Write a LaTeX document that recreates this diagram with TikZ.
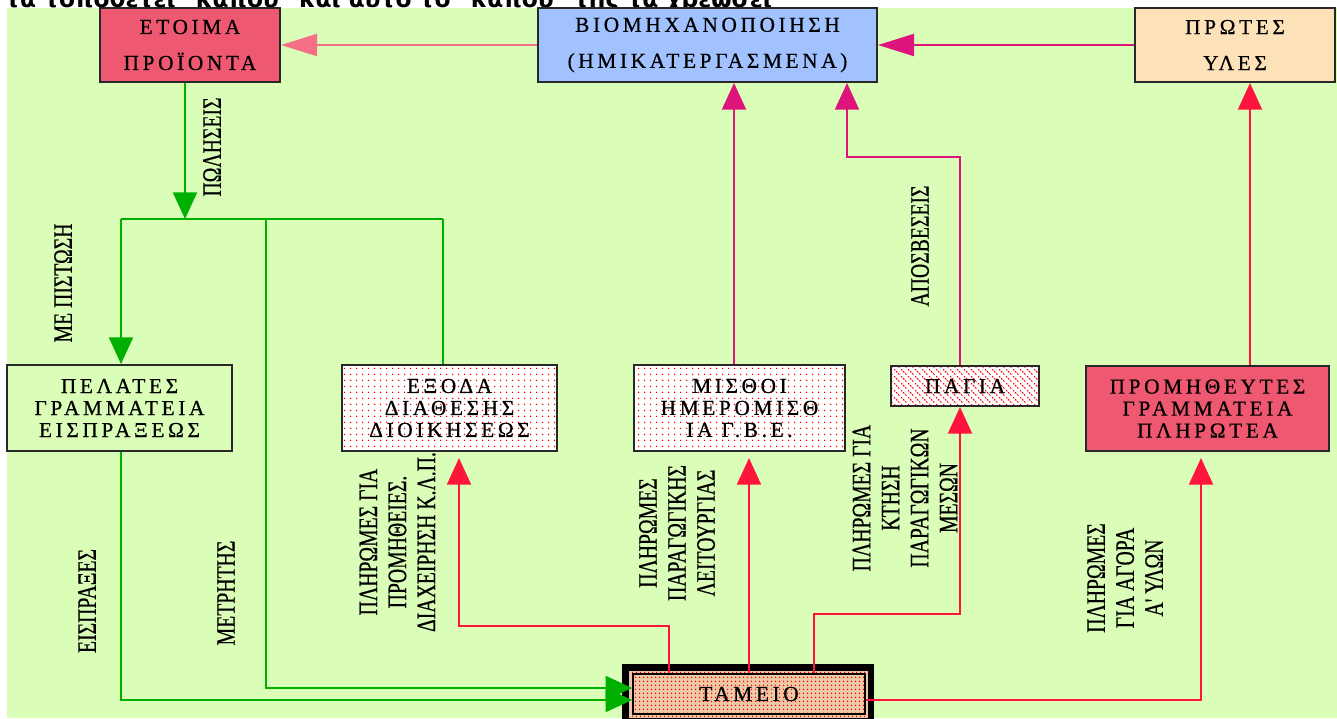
\documentclass[tikz,border=0pt]{standalone}
\usepackage{fontspec}
\setmainfont{Liberation Serif}
\newfontfamily\boxfont[LetterSpace=17,FakeBold=0.6]{Liberation Serif}
\newfontfamily\lblfont[FakeStretch=0.74,FakeBold=0.5]{Liberation Serif}
\newfontfamily\topfont{DejaVu Sans}
\usetikzlibrary{arrows.meta,patterns.meta}

\definecolor{bggreen}{RGB}{218,253,184}
\definecolor{lgreen}{RGB}{0,176,0}
\definecolor{pinkar}{RGB}{245,112,135}
\definecolor{magar}{RGB}{222,20,125}
\definecolor{redar}{RGB}{255,20,60}
\definecolor{redbox}{RGB}{238,88,112}
\definecolor{bluebox}{RGB}{162,194,255}
\definecolor{peach}{RGB}{252,225,185}
\definecolor{tanbox}{RGB}{238,200,165}
\definecolor{edge}{RGB}{40,40,40}

\tikzdeclarepattern{
  name=reddots,
  type=colored,
  bottom left={(0pt,0pt)},
  top right={(4.5pt,4.5pt)},
  tile size={(4.5pt,4.5pt)},
  code={\fill[red] (2.25pt,2.25pt) circle [radius=0.7pt];}
}
\tikzdeclarepattern{
  name=densedots,
  type=colored,
  bottom left={(0pt,0pt)},
  top right={(2.6pt,2.6pt)},
  tile size={(2.6pt,2.6pt)},
  code={\fill[red] (1.3pt,1.3pt) circle [radius=0.65pt];}
}
\tikzdeclarepattern{
  name=redhatch,
  type=colored,
  bottom left={(0pt,0pt)},
  top right={(5.5pt,5.5pt)},
  tile size={(5.5pt,5.5pt)},
  code={\draw[red, line width=0.8pt, dash pattern=on 1.4pt off 1pt] (0pt,5.5pt) -- (5.5pt,0pt);}
}

\tikzset{
  box/.style={draw=edge, line width=1.5pt, inner sep=0pt, align=center,
    font=\boxfont\fontsize{16pt}{16.5pt}\selectfont},
  topbox/.style={box, minimum height=55.5pt,
    font=\boxfont\fontsize{16pt}{27pt}\selectfont},
  lbl/.style={rotate=90, align=center, inner sep=0pt,
    font=\lblfont\fontsize{20pt}{21.75pt}\selectfont},
  vhead/.style={-{Triangle[length=20pt,width=18pt]}},
  hhead/.style={-{Triangle[length=27pt,width=16.5pt]}},
  gline/.style={draw=lgreen, line width=1.5pt},
  rline/.style={draw=redar, line width=1.5pt},
  mline/.style={draw=magar, line width=1.5pt},
  pline/.style={draw=pinkar, line width=1.5pt}
}

\begin{document}
\begin{tikzpicture}[x=0.75pt,y=-0.75pt]
\useasboundingbox (0,0) rectangle (1337,718);
\clip (0,0) rectangle (1337,718);
\fill[white] (0,0) rectangle (1337,718);
\node[anchor=base west, inner sep=0pt,
  font=\topfont\bfseries\fontsize{17.5pt}{19pt}\selectfont] (toptext) at (5,7)
  {τα τοποθετεί "κάπου" και αυτό το "κάπου" της τα χρεώσει};
\fill[bggreen] (7,8) rectangle (1337,718);

% top row
\node[topbox, fill=redbox, minimum width=135pt] (etoima) at (190,45) {ΕΤΟΙΜΑ\\ΠΡΟΪΟΝΤΑ};
\node[topbox, fill=bluebox, minimum width=254.25pt] (biom) at (707.5,45) {ΒΙΟΜΗΧΑΝΟΠΟΙΗΣΗ\\(ΗΜΙΚΑΤΕΡΓΑΣΜΕΝΑ)};
\node[topbox, fill=peach, minimum width=150pt] (protes) at (1235,45) {ΠΡΩΤΕΣ\\ΥΛΕΣ};

% middle row
\node[box, minimum width=168.75pt, minimum height=64.5pt] (pelates) at (119.5,408) {ΠΕΛΑΤΕΣ\\ΓΡΑΜΜΑΤΕΙΑ\\ΕΙΣΠΡΑΞΕΩΣ};
\node[box, preaction={fill=white}, pattern=reddots, minimum width=161.25pt, minimum height=64.5pt] (exoda) at (449.5,408) {ΕΞΟΔΑ\\ΔΙΑΘΕΣΗΣ\\ΔΙΟΙΚΗΣΕΩΣ};
\node[box, preaction={fill=white}, pattern=reddots, minimum width=158.25pt, minimum height=64.5pt] (misthoi) at (739.5,408) {ΜΙΣΘΟΙ\\ΗΜΕΡΟΜΙΣΘ\\ΙΑ Γ.Β.Ε.};
\node[box, preaction={fill=white}, pattern=redhatch, minimum width=111pt, minimum height=30pt] (pagia) at (965,386) {ΠΑΓΙΑ};
\node[box, fill=redbox, minimum width=182.25pt, minimum height=63.75pt] (promith) at (1207.5,408.5) {ΠΡΟΜΗΘΕΥΤΕΣ\\ΓΡΑΜΜΑΤΕΙΑ\\ΠΛΗΡΩΤΕΑ};

% cash box
\fill[black] (622,664) rectangle (874,730);
\path[preaction={fill=tanbox}, pattern=densedots] (629,671) rectangle (868,718);
\node[box, line width=1.2pt, draw=black, preaction={fill=tanbox}, pattern=densedots,
  minimum width=174pt, minimum height=30pt] (tameio) at (749,694) {ΤΑΜΕΙΟ};

% top arrows
\draw[pline, hhead] (biom.west) -- (etoima.east);
\draw[mline, hhead] (protes.west) -- (biom.east);

% green flows
\coordinate (j) at (185,219);
\coordinate (jl) at (121,219);
\coordinate (jm) at (266,219);
\coordinate (jr) at (443,219);
\draw[gline] (jl) -- (jr);
\draw[gline, vhead] (etoima.south -| j) -- (j);
\draw[gline, vhead] (jl) -- (jl |- pelates.north);
\draw[gline] (jr) -- (jr |- exoda.north);
\draw[gline, vhead] (jm) |- ([yshift=4.5pt]tameio.west);
\draw[gline, vhead] (pelates.south -| jl) |- ([yshift=-4.5pt]tameio.west);

% red flows from cash
\coordinate (ra) at (669,626);
\coordinate (rb) at (459,626);
\draw[rline, vhead, shorten >=4.5pt] (tameio.north -| ra) -- (ra) -- (rb) -- (rb |- exoda.south);
\draw[rline, vhead, shorten >=4.5pt] (tameio.north) -- (misthoi.south -| tameio.north);
\coordinate (rc) at (814,614);
\coordinate (rd) at (960,614);
\draw[rline, vhead] (tameio.north -| rc) -- (rc) -- (rd) -- (rd |- pagia.south);
\coordinate (re) at (1201,700);
\draw[rline, vhead, shorten >=4.5pt] ([yshift=-4.5pt]tameio.east) -- (re) -- (re |- promith.south);
\coordinate (rf) at (1250,300);
\draw[rline, vhead] (promith.north -| rf) -- (protes.south -| rf);

% magenta flows into production
\coordinate (mx) at (734,300);
\draw[mline, vhead] (misthoi.north -| mx) -- (biom.south -| mx);
\coordinate (pa) at (960,157);
\coordinate (pb) at (847,157);
\draw[mline, vhead] (pagia.north -| pa) -- (pa) -- (pb) -- (pb |- biom.south);

% labels
\node[lbl] (lpol) at (212,147) {ΠΩΛΗΣΕΙΣ};
\node[lbl] (lpist) at (63,283) {ΜΕ ΠΙΣΤΩΣΗ};
\node[lbl] (leisp) at (87,601) {ΕΙΣΠΡΑΞΕΣ};
\node[lbl] (lmetr) at (226,593) {ΜΕΤΡΗΤΗΣ};
\node[lbl] (lprom) at (397.5,542) {ΠΛΗΡΩΜΕΣ ΓΙΑ\\ΠΡΟΜΗΘΕΙΕΣ.\\ΔΙΑΧΕΙΡΗΣΗ Κ.Λ.Π.};
\node[lbl] (lpar) at (677,533) {ΠΛΗΡΩΜΕΣ\\ΠΑΡΑΓΩΓΙΚΗΣ\\ΛΕΙΤΟΥΡΓΙΑΣ};
\node[lbl] (lkt) at (905,498) {ΠΛΗΡΩΜΕΣ ΓΙΑ\\ΚΤΗΣΗ\\ΠΑΡΑΓΩΓΙΚΩΝ\\ΜΕΣΩΝ};
\node[lbl] (lapo) at (920,246) {ΑΠΟΣΒΕΣΕΙΣ};
\node[lbl] (lag) at (1125,578) {ΠΛΗΡΩΜΕΣ\\ΓΙΑ ΑΓΟΡΑ\\Α' ΥΛΩΝ};
\end{tikzpicture}
\end{document}
